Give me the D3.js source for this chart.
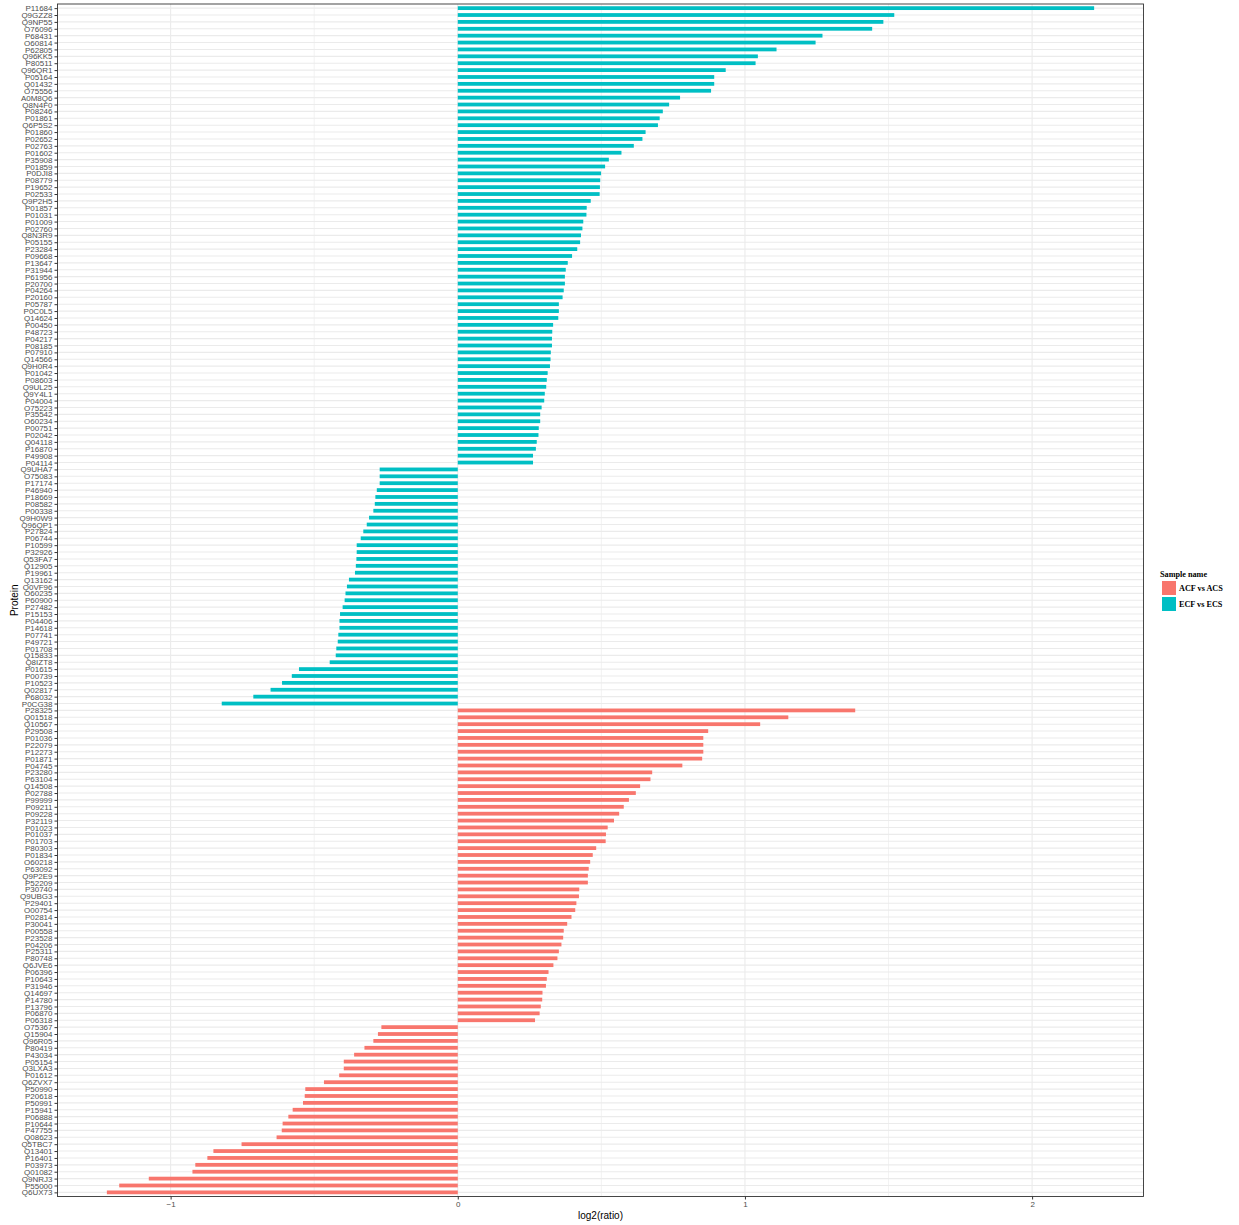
<!DOCTYPE html>
<html>
<head>
<meta charset="utf-8">
<script src="https://cdn.jsdelivr.net/npm/d3@7"></script>
<style>
  html, body { margin: 0; padding: 0; background: #ffffff; }
  svg { display: block; }
</style>
</head>
<body>
<svg id="chart" width="1239" height="1225"></svg>
<script>
// ---------------- DATA ----------------
const ecfProteins = ["P11684","Q9GZZ8","Q9NP55","O76096","P68431","O60814","P62805","Q96KK5","P80511","Q96QR1","P05164","Q01432","O75556","A0M8Q6","Q8N4F0","P08246","P01861","Q6P5S2","P01860","P02652","P02763","P01602","P35908","P01859","P0DJI8","P08779","P19652","P02533","Q9P2H5","P01857","P01031","P01009","P02760","Q8N3R9","P05155","P23284","P09668","P13647","P31944","P61956","P20700","P04264","P20160","P05787","P0C0L5","Q14624","P00450","P48723","P04217","P08185","P07910","Q14566","Q9H0R4","P01042","P08603","Q9UL25","Q9Y4L1","P04004","O75223","P35542","O60234","P00751","P02042","Q04118","P16870","P49908","P04114",
"Q9UHA7","O75083","P17174","P46940","P18669","P08582","P00338","Q9H0W9","Q96QP1","P27824","P06744","P10599","P32926","Q53FA7","Q12905","P19961","Q13162","Q0VF96","O60235","P60900","P27482","P15153","P04406","P14618","P07741","P49721","P01708","Q15833","Q8IZT8","P01615","P00739","P10523","Q02817","P68032","P0CG38"];

const ecfValues = [2.216,1.520,1.482,1.443,1.270,1.246,1.110,1.045,1.037,0.933,0.893,0.893,0.882,0.774,0.736,0.714,0.703,0.697,0.654,0.643,0.613,0.570,0.526,0.513,0.499,0.496,0.495,0.494,0.463,0.449,0.448,0.437,0.434,0.429,0.426,0.416,0.398,0.383,0.376,0.373,0.373,0.369,0.365,0.352,0.352,0.350,0.332,0.329,0.328,0.328,0.324,0.323,0.321,0.313,0.310,0.308,0.303,0.301,0.292,0.287,0.287,0.282,0.281,0.275,0.272,0.262,0.262,
-0.272,-0.272,-0.272,-0.282,-0.287,-0.289,-0.294,-0.309,-0.317,-0.329,-0.338,-0.352,-0.352,-0.353,-0.355,-0.358,-0.379,-0.386,-0.391,-0.394,-0.401,-0.410,-0.412,-0.412,-0.416,-0.418,-0.423,-0.425,-0.446,-0.553,-0.578,-0.612,-0.652,-0.712,-0.822];

const acfProteins = ["P28325","Q01518","Q10567","P29508","P01036","P22079","P12273","P01871","P04745","P23280","P63104","Q14508","P02788","P99999","P09211","P09228","P32119","P01023","P01037","P01703","P80303","P01834","O60218","P63092","Q9P2E9","P52209","P30740","Q9UBG3","P29401","O00754","P02814","P30041","P00558","P23528","P04206","P25311","P80748","Q6JVE6","P06396","P10643","P31946","Q14697","P14780","P13796","P06870","P06318",
"O75367","Q15904","Q96R05","P80419","P43034","P05154","Q3LXA3","P01612","Q6ZVX7","P50990","P20618","P50991","P15941","P06888","P10644","P47755","Q08623","Q5TBC7","Q13401","P16401","P03973","Q01082","Q9NRJ3","P55000","Q6UX73"];

const acfValues = [1.384,1.151,1.053,0.872,0.855,0.855,0.855,0.851,0.782,0.677,0.671,0.635,0.620,0.596,0.578,0.562,0.544,0.522,0.516,0.515,0.482,0.470,0.461,0.456,0.453,0.453,0.423,0.422,0.413,0.409,0.396,0.381,0.369,0.367,0.361,0.352,0.347,0.333,0.316,0.310,0.307,0.295,0.294,0.289,0.285,0.269,
-0.266,-0.278,-0.294,-0.325,-0.361,-0.397,-0.397,-0.413,-0.466,-0.531,-0.533,-0.539,-0.575,-0.590,-0.610,-0.613,-0.631,-0.753,-0.851,-0.872,-0.914,-0.924,-1.076,-1.179,-1.222];

const seriesNames = ["ACF vs ACS", "ECF vs ECS"];
const seriesColors = ["#F8766D", "#00BFC4"];
const xTicks = [-1, 0, 1, 2];
const xMinorTicks = [-0.5, 0.5, 1.5];

// ---------------- BUILD ----------------
const rows = [];
ecfProteins.forEach((p, i) => rows.push({protein: p, value: ecfValues[i], series: seriesNames[1]}));
acfProteins.forEach((p, i) => rows.push({protein: p, value: acfValues[i], series: seriesNames[0]}));

const svg = d3.select("#chart");
const panel = {left: 57.5, right: 1143.5, top: 4, bottom: 1196.5};

const vmin = Math.min(0, d3.min(rows, d => d.value));
const vmax = Math.max(0, d3.max(rows, d => d.value));
const pad = (vmax - vmin) * 0.05;
const x = d3.scaleLinear().domain([vmin - pad, vmax + pad]).range([panel.left, panel.right]);

const y = d3.scalePoint()
  .domain(rows.map(d => d.protein))
  .range([panel.top, panel.bottom])
  .padding(0.6);
const step = y.step();
const barH = step * 0.55;

const color = d3.scaleOrdinal().domain(seriesNames).range(seriesColors);

// panel background
svg.append("rect")
  .attr("x", panel.left).attr("y", panel.top)
  .attr("width", panel.right - panel.left).attr("height", panel.bottom - panel.top)
  .attr("fill", "#ffffff");

// grid
const grid = svg.append("g");
grid.selectAll("line.minor").data(xMinorTicks).join("line")
  .attr("x1", d => x(d)).attr("x2", d => x(d))
  .attr("y1", panel.top).attr("y2", panel.bottom)
  .attr("stroke", "#ebebeb").attr("stroke-width", 0.6);
grid.selectAll("line.hmaj").data(rows).join("line")
  .attr("x1", panel.left).attr("x2", panel.right)
  .attr("y1", d => y(d.protein)).attr("y2", d => y(d.protein))
  .attr("stroke", "#ebebeb").attr("stroke-width", 1.1);
grid.selectAll("line.vmaj").data(xTicks).join("line")
  .attr("x1", d => x(d)).attr("x2", d => x(d))
  .attr("y1", panel.top).attr("y2", panel.bottom)
  .attr("stroke", "#ebebeb").attr("stroke-width", 1.1);

// bars
svg.append("g").selectAll("rect").data(rows).join("rect")
  .attr("x", d => Math.min(x(0), x(d.value)))
  .attr("width", d => Math.abs(x(d.value) - x(0)))
  .attr("y", d => y(d.protein) - barH / 2)
  .attr("height", barH)
  .attr("fill", d => color(d.series));

// panel border
svg.append("rect")
  .attr("x", panel.left).attr("y", panel.top)
  .attr("width", panel.right - panel.left).attr("height", panel.bottom - panel.top)
  .attr("fill", "none").attr("stroke", "#333333").attr("stroke-width", 0.9);

// x axis
const xAxis = d3.axisBottom(x).tickValues(xTicks).tickFormat(d3.format("d")).tickSize(3).tickPadding(2);
const gx = svg.append("g").attr("transform", `translate(0,${panel.bottom})`).call(xAxis);
gx.select(".domain").remove();
gx.selectAll(".tick line").attr("stroke", "#333333");
gx.selectAll(".tick text").attr("fill", "#4d4d4d").style("font-family", "'Liberation Sans', Arial, sans-serif").style("font-size", "8px");

// y axis
const yAxis = d3.axisLeft(y).tickSize(3).tickPadding(2);
const gy = svg.append("g").attr("transform", `translate(${panel.left},0)`).call(yAxis);
gy.select(".domain").remove();
gy.selectAll(".tick line").attr("stroke", "#333333");
gy.selectAll(".tick text").attr("fill", "#4d4d4d").style("font-family", "'Liberation Sans', Arial, sans-serif").style("font-size", "8px");

// axis titles
svg.append("text")
  .attr("x", (panel.left + panel.right) / 2).attr("y", 1219)
  .attr("text-anchor", "middle")
  .style("font-family", "'Liberation Sans', Arial, sans-serif").style("font-size", "10px")
  .attr("fill", "#000").text("log2(ratio)");
svg.append("text")
  .attr("transform", `translate(18,${(panel.top + panel.bottom) / 2}) rotate(-90)`)
  .attr("text-anchor", "middle")
  .style("font-family", "'Liberation Sans', Arial, sans-serif").style("font-size", "10px")
  .attr("fill", "#000").text("Protein");

// legend
const leg = svg.append("g").attr("transform", "translate(1160,0)");
leg.append("text").attr("x", 0).attr("y", 577)
  .style("font-family", "'Liberation Serif', 'Times New Roman', serif").style("font-weight", "bold").style("font-size", "8.2px")
  .attr("fill", "#000").text("Sample name");
seriesNames.forEach((s, i) => {
  const yy = 581 + i * 16;
  leg.append("rect").attr("x", 2).attr("y", yy).attr("width", 14).attr("height", 14).attr("fill", color(s));
  leg.append("text").attr("x", 19).attr("y", yy + 10)
    .style("font-family", "'Liberation Serif', 'Times New Roman', serif").style("font-weight", "bold").style("font-size", "8.2px")
    .attr("fill", "#000").text(s);
});
</script>
</body>
</html>
